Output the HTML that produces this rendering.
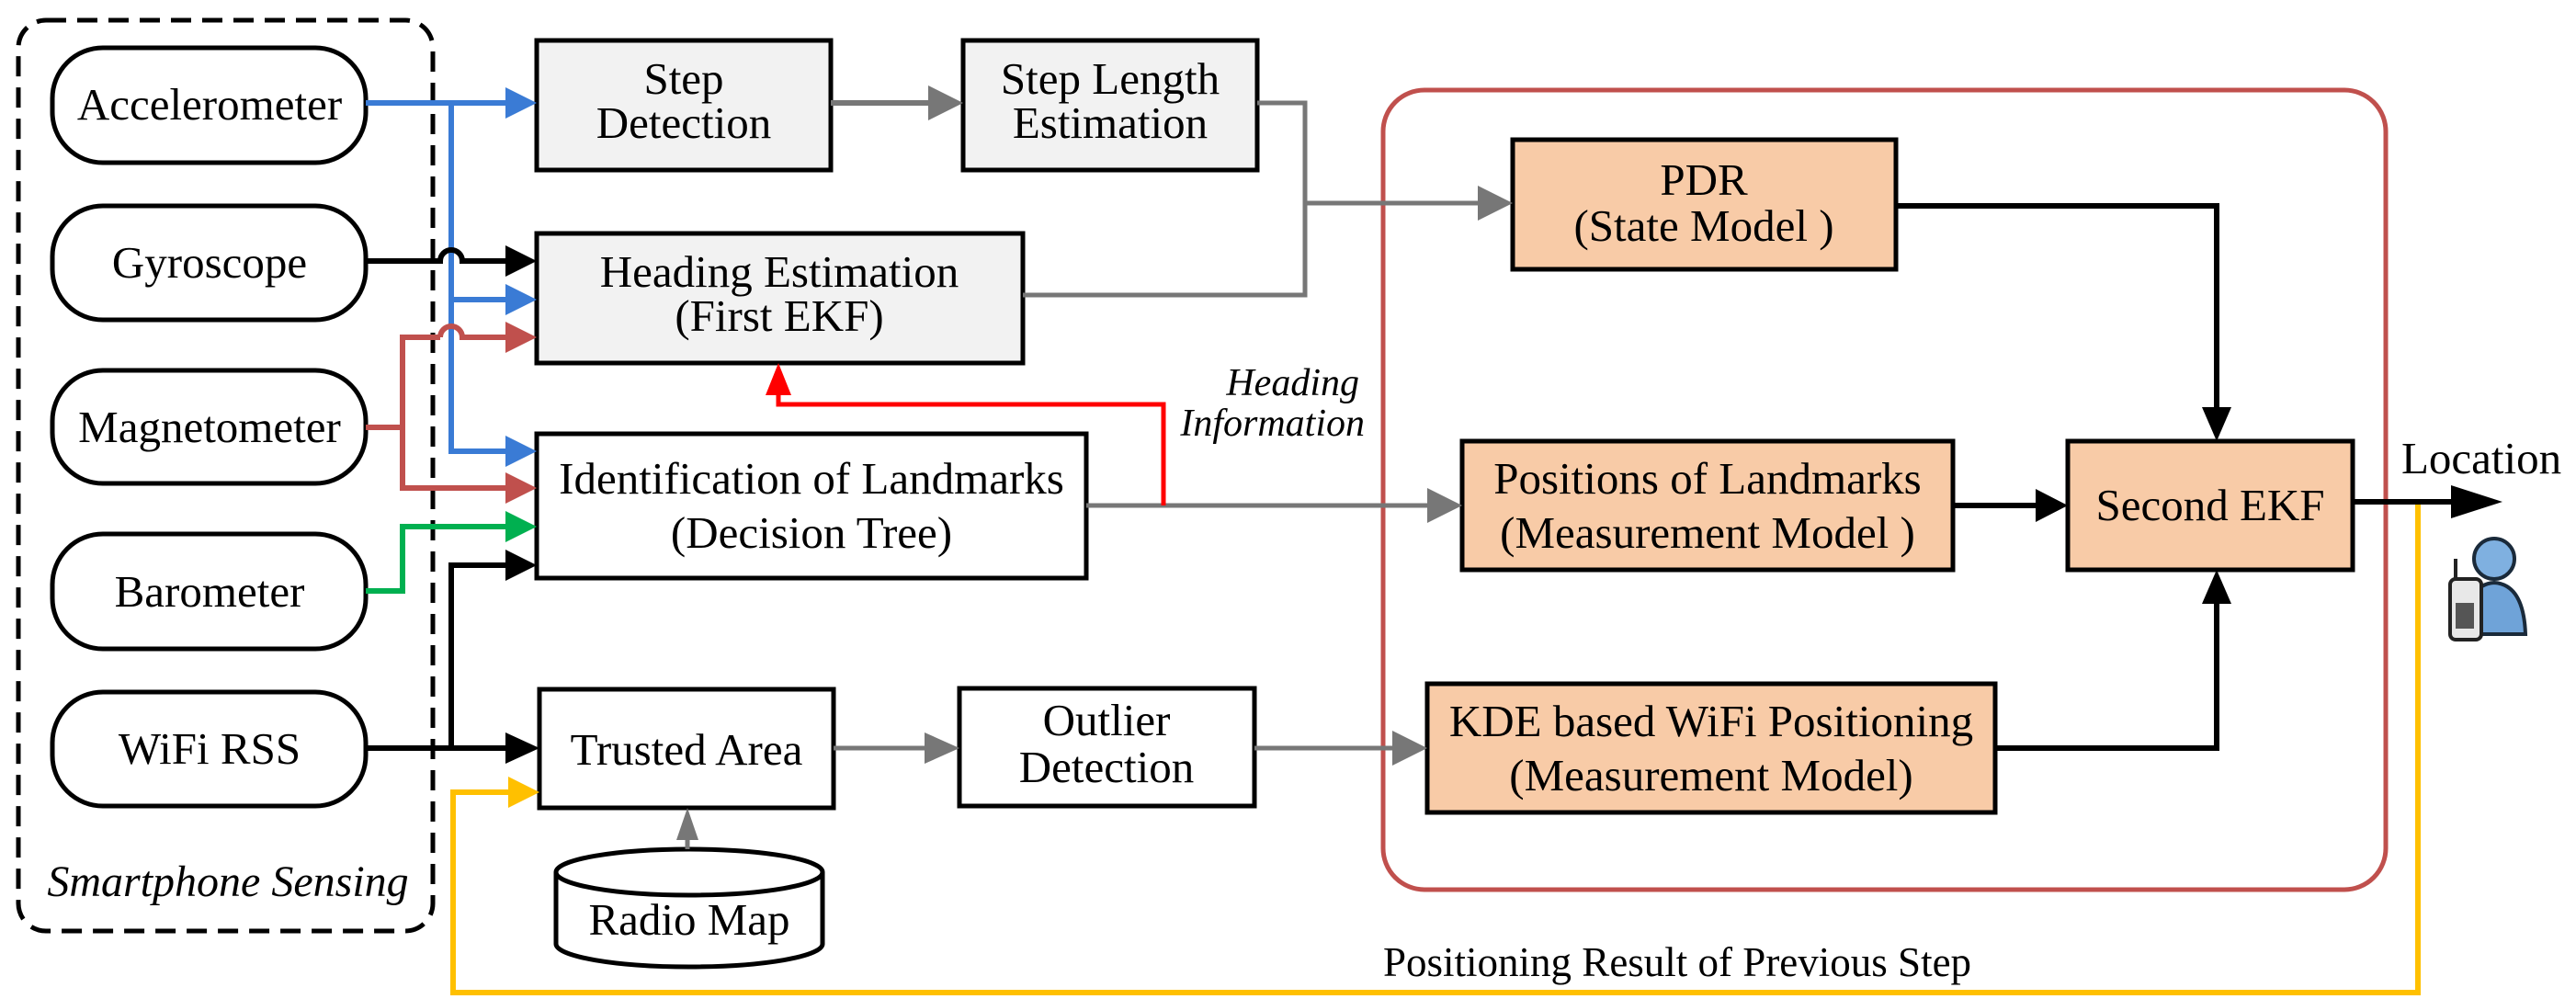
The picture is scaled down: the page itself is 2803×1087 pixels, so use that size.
<!DOCTYPE html>
<html><head><meta charset="utf-8"><style>
html,body{margin:0;padding:0;background:#fff;}
svg{display:block;}
svg, svg text{font-family:"Liberation Serif","Noto Serif CJK SC","DejaVu Serif",serif;}
</style></head><body>
<svg width="2803" height="1087" viewBox="0 0 2803 1087" xmlns="http://www.w3.org/2000/svg" font-size="48">
<rect x="20" y="22" width="451" height="991" rx="30" fill="none" stroke="#000" stroke-width="5" stroke-dasharray="22,12"/>
<g fill="#fff" stroke="#000" stroke-width="5">
<rect x="57" y="52" width="341" height="125" rx="55"/>
<rect x="57" y="224" width="341" height="124" rx="55"/>
<rect x="57" y="403" width="341" height="123" rx="55"/>
<rect x="57" y="581" width="341" height="125" rx="55"/>
<rect x="57" y="753" width="341" height="124" rx="55"/>
</g>
<g text-anchor="middle" font-size="49">
<text x="228" y="130">Accelerometer</text>
<text x="228" y="302">Gyroscope</text>
<text x="228" y="481">Magnetometer</text>
<text x="228" y="660">Barometer</text>
<text x="228" y="831">WiFi RSS</text>
</g>
<text x="248" y="975" text-anchor="middle" font-style="italic" font-size="48">Smartphone Sensing</text>

<rect x="1505" y="98" width="1091" height="870" rx="45" fill="none" stroke="#c0504d" stroke-width="5"/>

<g stroke="#000" stroke-width="5">
<rect x="584" y="44" width="320" height="141" fill="#f2f2f2"/>
<rect x="1048" y="44" width="320" height="141" fill="#f2f2f2"/>
<rect x="584" y="254" width="529" height="141" fill="#f2f2f2"/>
<rect x="584" y="472" width="598" height="157" fill="#fff"/>
<rect x="587" y="750" width="320" height="129" fill="#fff"/>
<rect x="1044" y="749" width="321" height="128" fill="#fff"/>
<rect x="1646" y="152" width="417" height="141" fill="#f8cba7"/>
<rect x="1591" y="480" width="534" height="140" fill="#f8cba7"/>
<rect x="2250" y="480" width="310" height="140" fill="#f8cba7"/>
<rect x="1553" y="744" width="618" height="140" fill="#f8cba7"/>
</g>
<path d="M605,949 L605,1027 A145,25 0 0 0 895,1027 L895,949" fill="#fff" stroke="#000" stroke-width="5"/>
<ellipse cx="750" cy="949" rx="145" ry="25" fill="#fff" stroke="#000" stroke-width="5"/>

<g text-anchor="middle" font-size="49">
<text x="750" y="1017">Radio Map</text>
<text x="744" y="102">Step</text>
<text x="744" y="150">Detection</text>
<text x="1208" y="102">Step Length</text>
<text x="1208" y="150">Estimation</text>
<text x="848" y="312">Heading Estimation</text>
<text x="848" y="360">(First EKF)</text>
<text x="883" y="537">Identification of Landmarks</text>
<text x="883" y="596">(Decision Tree)</text>
<text x="747" y="832">Trusted Area</text>
<text x="1204" y="800">Outlier</text>
<text x="1204" y="851">Detection</text>
<text x="1854" y="212">PDR</text>
<text x="1854" y="262">(State Model )</text>
<text x="1858" y="537">Positions of Landmarks</text>
<text x="1858" y="596">(Measurement Model )</text>
<text x="2405" y="566">Second EKF</text>
<text x="1862" y="801">KDE based WiFi Positioning</text>
<text x="1862" y="860">(Measurement Model)</text>
</g>
<g font-style="italic" font-size="42" text-anchor="end">
<text x="1479" y="430">Heading</text>
<text x="1485" y="474">Information</text>
</g>
<text x="2613" y="515" font-size="49">Location</text>
<text x="1505" y="1062" font-size="45">Positioning Result of Previous Step</text>

<g fill="none" stroke-width="6">
<polyline points="2560,546 2631,546 2631,1080 493,1080 493,862 560,862" stroke="#ffc000"/>
<polyline points="398,112 550,112" stroke="#3a7bd5"/>
<polyline points="491,112 491,491 550,491" stroke="#3a7bd5"/>
<polyline points="491,326 550,326" stroke="#3a7bd5"/>
<path d="M398,284 L479,284 A12,12 0 0 1 503,284 L550,284" stroke="#000"/>
<polyline points="398,465 438,465" stroke="#c0504d"/>
<polyline points="550,531 438,531 438,367 479,367" stroke="#c0504d"/>
<path d="M479,367 A12,12 0 0 1 503,367 L550,367" stroke="#c0504d"/>
<polyline points="398,643 438,643 438,573 550,573" stroke="#00b050"/>
<polyline points="398,814 550,814" stroke="#000"/>
<polyline points="491,814 491,615 550,615" stroke="#000"/>
<polyline points="904,112 1012,112" stroke="#777"/>
<polyline points="1368,112 1420,112 1420,321 1113,321" stroke="#777" stroke-width="5"/>
<polyline points="1420,221 1610,221" stroke="#777" stroke-width="5"/>
<polyline points="1182,550 1555,550" stroke="#777" stroke-width="5"/>
<polyline points="907,814 1008,814" stroke="#777" stroke-width="5"/>
<polyline points="1365,814 1517,814" stroke="#777" stroke-width="5"/>
<polyline points="748,924 748,912" stroke="#777" stroke-width="5"/>
<polyline points="1266,550 1266,440 847,440 847,430" stroke="#ff0000" stroke-width="5"/>
<polyline points="2063,224 2412,224 2412,445" stroke="#000"/>
<polyline points="2125,550 2215,550" stroke="#000"/>
<polyline points="2171,814 2412,814 2412,655" stroke="#000"/>
<polyline points="2560,546 2690,546" stroke="#000"/>
</g>
<g>
<polygon points="550,95 584,112 550,129" fill="#3a7bd5"/>
<polygon points="550,309 584,326 550,343" fill="#3a7bd5"/>
<polygon points="550,474 584,491 550,508" fill="#3a7bd5"/>
<polygon points="550,267 584,284 550,301" fill="#000"/>
<polygon points="550,350 584,367 550,384" fill="#c0504d"/>
<polygon points="550,514 584,531 550,548" fill="#c0504d"/>
<polygon points="550,556 584,573 550,590" fill="#00b050"/>
<polygon points="550,598 584,615 550,632" fill="#000"/>
<polygon points="550,797 587,814 550,831" fill="#000"/>
<polygon points="553,845 587,862 553,879" fill="#ffc000"/>
<polygon points="1010,93 1048,112 1010,131" fill="#777"/>
<polygon points="1608,202 1646,221 1608,240" fill="#777"/>
<polygon points="1553,531 1591,550 1553,569" fill="#777"/>
<polygon points="1006,797 1044,814 1006,831" fill="#777"/>
<polygon points="1515,795 1553,814 1515,833" fill="#777"/>
<polygon points="736,914 748,879 760,914" fill="#777"/>
<polygon points="833,430 847,395 861,430" fill="#ff0000"/>
<polygon points="2396,443 2412,480 2428,443" fill="#000"/>
<polygon points="2396,657 2412,620 2428,657" fill="#000"/>
<polygon points="2215,532 2250,550 2215,568" fill="#000"/>
<polygon points="2667,528 2723,546 2667,564" fill="#000"/>
</g>
<g>
<circle cx="2714" cy="608" r="22" fill="#7fb0e0" stroke="#1a2a3a" stroke-width="4"/>
<path d="M2684,690 Q2682,636 2714,634 Q2746,636 2748,690 Z" fill="#6fa3d8" stroke="#1a2a3a" stroke-width="4"/>
<rect x="2666" y="630" width="34" height="66" rx="6" fill="#e8e8e8" stroke="#222" stroke-width="4"/>
<rect x="2672" y="656" width="20" height="28" fill="#555"/>
<line x1="2672" y1="630" x2="2672" y2="608" stroke="#222" stroke-width="4"/>
</g>
</svg>
</body></html>
